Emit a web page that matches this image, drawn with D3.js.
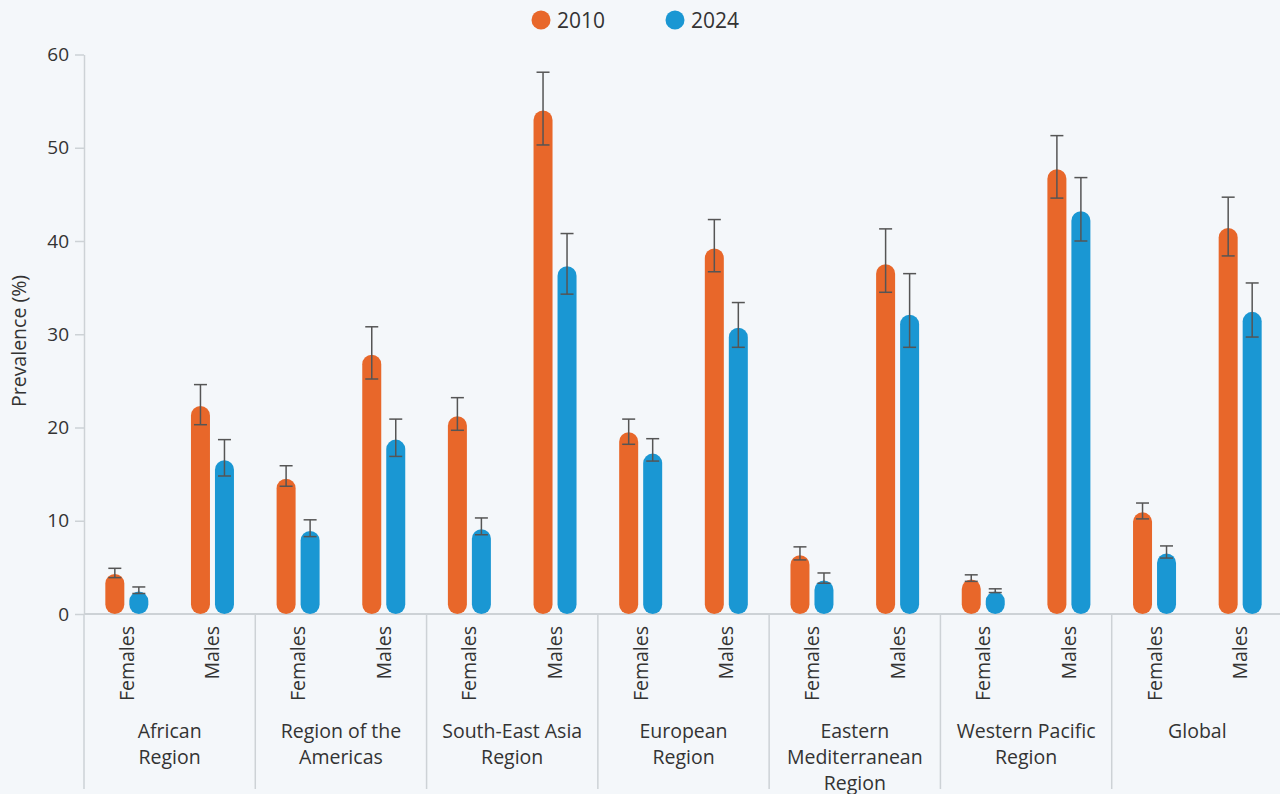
<!DOCTYPE html>
<html>
<head>
<meta charset="utf-8">
<script src="https://cdn.jsdelivr.net/npm/d3@7"></script>
<style>
  html, body { margin: 0; padding: 0; background: #F4F7FA; }
  svg { display: block; font-family: "Open Sans", "Noto Sans", sans-serif; }
</style>
</head>
<body>
<svg id="chart" width="1280" height="794"></svg>
<script>
// Regions (label lines) and sub-categories
const regions = ["African Region", "Region of the Americas", "South-East Asia Region",
  "European Region", "Eastern Mediterranean Region", "Western Pacific Region", "Global"];
const regionLabelLines = [["African", "Region"], ["Region of the", "Americas"],
  ["South-East Asia", "Region"], ["European", "Region"], ["Eastern", "Mediterranean", "Region"],
  ["Western Pacific", "Region"], ["Global"]];
const sexes = ["Females", "Males"];
const years = ["2010", "2024"];
const yTicks = [0, 10, 20, 30, 40, 50, 60];

// Prevalence (%) per region, [Females, Males]
const prev2010 = [[4.3, 22.3], [14.5, 27.8], [21.2, 54.0], [19.5, 39.2], [6.3, 37.5], [3.7, 47.7], [10.9, 41.4]];
const prev2024 = [[2.4, 16.5], [8.9, 18.7], [9.1, 37.3], [17.2, 30.7], [3.6, 32.1], [2.4, 43.2], [6.5, 32.4]];
// Uncertainty intervals [low, high]
const ci2010 = [[[3.9, 4.9], [20.3, 24.6]], [[13.7, 15.9], [25.2, 30.8]], [[19.7, 23.2], [50.3, 58.1]],
  [[18.2, 20.9], [36.7, 42.3]], [[5.8, 7.2], [34.5, 41.3]], [[3.5, 4.2], [44.6, 51.3]], [[10.2, 11.9], [38.4, 44.7]]];
const ci2024 = [[[2.2, 2.9], [14.8, 18.7]], [[8.3, 10.1], [16.9, 20.9]], [[8.5, 10.3], [34.3, 40.8]],
  [[16.4, 18.8], [28.6, 33.4]], [[3.3, 4.4], [28.6, 36.5]], [[2.3, 2.7], [40.0, 46.8]], [[6.0, 7.3], [29.7, 35.5]]];

const colors = { "2010": "#E8672A", "2024": "#1A97D3" };
const textColor = "#333333";
const lineColor = "#CDD2D6";

const svg = d3.select("#chart");
svg.append("rect").attr("width", 1280).attr("height", 794).attr("fill", "#F4F7FA");

const plotLeft = 84, plotRight = 1283, plotTop = 54.5, plotBottom = 614;
const y = d3.scaleLinear().domain([0, 60]).range([plotBottom, plotTop]);
const xRegion = d3.scaleBand().domain(regions).range([plotLeft, plotRight]).padding(0);
const xSex = d3.scaleBand().domain(sexes).range([0, xRegion.bandwidth()]).padding(0);
const xYear = d3.scalePoint().domain(years).range([-12, 12]);
const barW = 19;

// Flatten records
const records = [];
regions.forEach((r, i) => {
  sexes.forEach((s, j) => {
    records.push({ region: r, sex: s, year: "2010", v: prev2010[i][j], lo: ci2010[i][j][0], hi: ci2010[i][j][1] });
    records.push({ region: r, sex: s, year: "2024", v: prev2024[i][j], lo: ci2024[i][j][0], hi: ci2024[i][j][1] });
  });
});
const cx = d => xRegion(d.region) + xSex(d.sex) + xSex.bandwidth() / 2 + xYear(d.year);

// Y axis
const yAxis = svg.append("g")
  .attr("transform", `translate(${plotLeft},0)`)
  .call(d3.axisLeft(y).tickValues(yTicks).tickSize(9).tickSizeOuter(0).tickPadding(6));
yAxis.select(".domain").attr("stroke", lineColor).attr("stroke-width", 1.5);
yAxis.selectAll(".tick line").attr("stroke", lineColor).attr("stroke-width", 1.5);
yAxis.selectAll(".tick text").attr("fill", textColor).attr("font-size", 19)
  .attr("font-family", "'Open Sans', sans-serif");

svg.append("text")
  .attr("transform", "translate(26,341) rotate(-90)")
  .attr("text-anchor", "middle")
  .attr("fill", textColor).attr("font-size", 19.5)
  .text("Prevalence (%)");

// Baseline and region separators
svg.append("line").attr("x1", plotLeft).attr("x2", plotRight)
  .attr("y1", plotBottom).attr("y2", plotBottom)
  .attr("stroke", lineColor).attr("stroke-width", 2);
svg.selectAll(".sep").data(regions).enter().append("line")
  .attr("x1", d => xRegion(d)).attr("x2", d => xRegion(d))
  .attr("y1", plotBottom).attr("y2", 789)
  .attr("stroke", lineColor).attr("stroke-width", 1.5);

// Bars (pill-shaped)
svg.selectAll(".bar").data(records).enter().append("rect")
  .attr("x", d => cx(d) - barW / 2)
  .attr("y", d => y(d.v))
  .attr("width", barW)
  .attr("height", d => y(0) - y(d.v))
  .attr("rx", barW / 2).attr("ry", barW / 2)
  .attr("fill", d => colors[d.year]);

// Error bars
const eb = svg.selectAll(".err").data(records).enter().append("g").attr("stroke", "#555").attr("stroke-width", 1.5);
eb.append("line").attr("x1", cx).attr("x2", cx).attr("y1", d => y(d.lo)).attr("y2", d => y(d.hi));
eb.append("line").attr("x1", d => cx(d) - 6.5).attr("x2", d => cx(d) + 6.5).attr("y1", d => y(d.lo)).attr("y2", d => y(d.lo));
eb.append("line").attr("x1", d => cx(d) - 6.5).attr("x2", d => cx(d) + 6.5).attr("y1", d => y(d.hi)).attr("y2", d => y(d.hi));

// Sub-category labels (rotated)
regions.forEach(r => {
  sexes.forEach(s => {
    const x0 = xRegion(r) + xSex(s) + xSex.bandwidth() / 2;
    svg.append("text")
      .attr("transform", `translate(${x0 + 7},626) rotate(-90)`)
      .attr("text-anchor", "end")
      .attr("fill", textColor).attr("font-size", 19.5)
      .text(s);
  });
});

// Region labels
regions.forEach((r, i) => {
  const t = svg.append("text")
    .attr("x", xRegion(r) + xRegion.bandwidth() / 2)
    .attr("y", 738)
    .attr("text-anchor", "middle")
    .attr("fill", textColor).attr("font-size", 19.5);
  regionLabelLines[i].forEach((line, k) => {
    t.append("tspan").attr("x", xRegion(r) + xRegion.bandwidth() / 2)
      .attr("dy", k === 0 ? 0 : 26).text(line);
  });
});

// Legend
const legend = svg.append("g");
const legendX = [541, 675];
years.forEach((yr, i) => {
  legend.append("circle").attr("cx", legendX[i]).attr("cy", 20).attr("r", 9.5).attr("fill", colors[yr]);
  legend.append("text").attr("x", legendX[i] + 16).attr("y", 28)
    .attr("fill", textColor).attr("font-size", 21).text(yr);
});
</script>
</body>
</html>
